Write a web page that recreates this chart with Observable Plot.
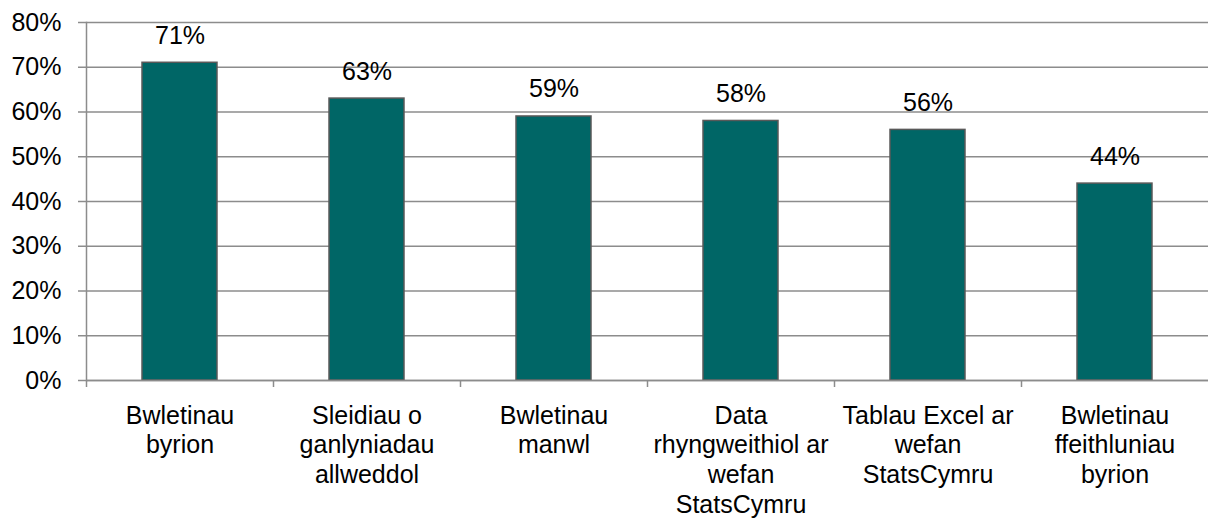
<!DOCTYPE html>
<html>
<head>
<meta charset="utf-8">
<script src="https://cdn.jsdelivr.net/npm/d3@7"></script>
<script src="https://cdn.jsdelivr.net/npm/@observablehq/plot@0.6"></script>
<style>
  html, body { margin: 0; padding: 0; background: #fff; }
  #chart svg { display: block; }
</style>
</head>
<body>
<div id="chart"></div>
<script>
const categories = [
  "Bwletinau\nbyrion",
  "Sleidiau o\nganlyniadau\nallweddol",
  "Bwletinau\nmanwl",
  "Data\nrhyngweithiol ar\nwefan\nStatsCymru",
  "Tablau Excel ar\nwefan\nStatsCymru",
  "Bwletinau\nffeithluniau\nbyrion"
];
const values = [71, 63, 59, 58, 56, 44];
const yTicks = [0, 10, 20, 30, 40, 50, 60, 70, 80];

const data = categories.map((c, i) => ({category: c, value: values[i]}));

const W = 1208, H = 518, ML = 86, MR = 0, MT = 22, MB = 138;
const step = (W - ML - MR) / categories.length;
const gray = "#8c8c8c";
const font = "'Liberation Sans', Arial, Helvetica, sans-serif";

const chart = Plot.plot({
  width: W,
  height: H,
  marginLeft: ML,
  marginRight: MR,
  marginTop: MT,
  marginBottom: MB,
  style: {fontFamily: font, fontSize: "25px", color: "#000", background: "#fff"},
  x: {domain: categories, paddingInner: 0.6, paddingOuter: 0.3, label: null},
  y: {domain: [0, 80], label: null},
  marks: [
    Plot.gridY(yTicks, {stroke: gray, strokeOpacity: 1, strokeWidth: 1.5}),
    Plot.frame({anchor: "left", stroke: gray, strokeWidth: 1.5}),
    Plot.axisY({ticks: yTicks, tickFormat: d => d + "%", tickSize: 8, tickPadding: 17,
      stroke: gray, strokeWidth: 1.5, strokeOpacity: 1, fontSize: 25, label: null}),
    Plot.axisX({tickSize: 7, tickFormat: () => "", dx: -step / 2,
      stroke: gray, strokeWidth: 1.5, strokeOpacity: 1, label: null}),
    Plot.axisX({tickSize: 0, tickPadding: 22, lineHeight: 1.19, fontSize: 25, label: null}),
    Plot.barY(data, {x: "category", y: "value", fill: "#006666", stroke: "#595959", strokeWidth: 1.5}),
    Plot.ruleY([0], {stroke: gray, strokeWidth: 1.5}),
    Plot.text(data, {x: "category", y: "value", text: d => d.value + "%", dy: -27, fontSize: 25, fill: "#000"})
  ]
});
document.getElementById("chart").appendChild(chart);
</script>
</body>
</html>
